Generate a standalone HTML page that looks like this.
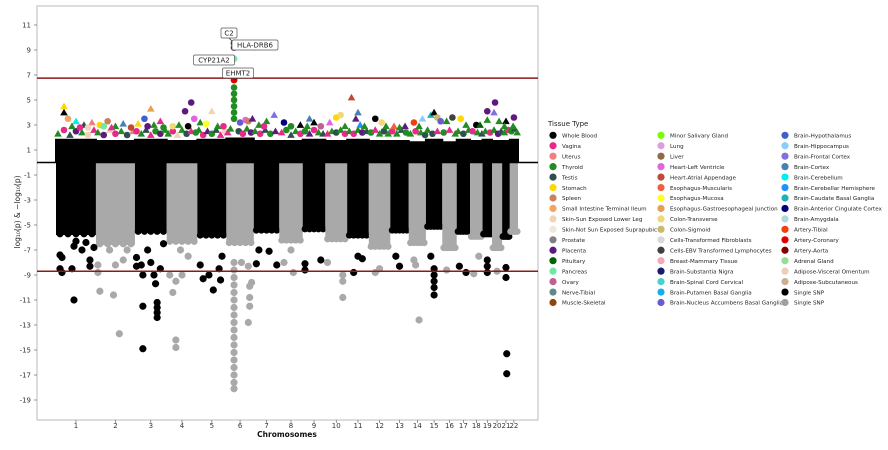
<!DOCTYPE html>
<html><head><meta charset="utf-8">
<style>
body{margin:0;background:#fff;font-family:"Liberation Sans",sans-serif;}
svg text{font-family:"DejaVu Sans","Liberation Sans",sans-serif;}
</style></head>
<body>
<svg id="chart" width="888" height="445" viewBox="0 0 888 445" xmlns="http://www.w3.org/2000/svg">
<rect x="0" y="0" width="888" height="445" fill="#fff"/>
<rect x="37" y="6" width="501" height="414" fill="#fff" stroke="#bbb" stroke-width="1"/>
<g id="bands"></g>
<g id="pts"></g>
<g id="lines"></g>
<g id="ann"></g>
<g id="axes"></g>
<g id="legend"></g>
</svg>
<script>
const chromosomes=["1","2","3","4","5","6","7","8","9","10","11","12","13","14","15","16","17","18","19","20","21","22"];
const chrLength=[249,243,198,191,181,171,159,146,141,136,135,134,115,107,102,90,83,78,59,63,48,51];
const bandTop=[1.9,1.8,1.9,1.8,1.9,2.0,1.8,1.8,1.9,1.8,1.9,1.8,1.8,1.7,1.9,1.7,1.9,1.8,1.9,1.8,1.8,1.9];
const bandBottom=[-5.8,-6.6,-5.6,-6.4,-5.9,-6.5,-5.5,-6.3,-5.4,-6.2,-5.9,-6.8,-5.5,-6.5,-5.2,-6.9,-5.6,-6.0,-5.8,-6.9,-6.0,-5.6];
const yTicks=[11,9,7,5,3,1,-1,-3,-5,-7,-9,-11,-13,-15,-17,-19];
const thresholdUp=6.75, thresholdDown=-8.7;
const lowPts=[[0,.1,-7.4],[0,.15,-7.6],[0,.1,-8.5],[0,.15,-8.8],[0,.45,-11],[0,.4,-8.5],[0,.45,-6.7],[0,.5,-6.3],[0,.65,-7],[0,.75,-6.4],[0,.85,-7.8],[0,.85,-8.3],[0,.95,-6.8],
[1,.05,-8.2],[1,.05,-8.8],[1,.1,-10.3],[1,.35,-7],[1,.45,-10.6],[1,.5,-8.2],[1,.6,-13.7],[1,.7,-7.8],[1,.8,-7],
[2,.05,-7.6],[2,.05,-8.3],[2,.2,-8.2],[2,.25,-9],[2,.25,-11.5],[2,.25,-14.9],[2,.4,-7],[2,.5,-8],[2,.6,-9],[2,.65,-9.7],[2,.7,-11.2],[2,.7,-11.6],[2,.7,-12],[2,.7,-12.4],[2,.8,-8.5],[2,.9,-6.5],
[3,.1,-9],[3,.2,-10.4],[3,.3,-9.5],[3,.3,-14.2],[3,.3,-14.8],[3,.45,-7],[3,.5,-9],[3,.7,-7.5],
[4,.1,-8.2],[4,.2,-9.3],[4,.4,-9],[4,.55,-10.2],[4,.75,-8.5],[4,.8,-9.4],[4,.85,-7.5],
[5,.28,-8],[5,.28,-8.6],[5,.28,-9.2],[5,.28,-9.8],[5,.28,-10.4],[5,.28,-11],[5,.28,-11.6],[5,.28,-12.2],[5,.28,-12.8],[5,.28,-13.4],[5,.28,-14],[5,.28,-14.6],[5,.28,-15.2],[5,.28,-15.8],[5,.28,-16.4],[5,.28,-17],[5,.28,-17.6],[5,.28,-18.1],[5,.55,-8],[5,.8,-8.3],[5,.85,-9.9],[5,.85,-10.8],[5,.85,-11.5],[5,.8,-12.8],[5,.92,-9.6],
[6,.1,-8.1],[6,.2,-7],[6,.6,-7.1],[6,.9,-8.2],
[7,.2,-8],[7,.5,-7],[7,.6,-8.8],
[8,.1,-8.1],[8,.1,-8.6],[8,.8,-7.8],
[9,.1,-8],[9,.8,-9],[9,.8,-9.5],[9,.8,-10.8],
[10,.3,-8.8],[10,.5,-7.5],[10,.7,-7.7],
[11,.3,-8.8],[11,.5,-8.5],
[12,.5,-8.3],[12,.3,-7.5],
[13,.6,-12.6],[13,.4,-8.2],[13,.3,-7.8],
[14,.5,-8.5],[14,.5,-9],[14,.5,-9.5],[14,.5,-10],[14,.5,-10.6],[14,.3,-7.5],
[15,.3,-8.6],
[16,.2,-8.3],[16,.7,-8.8],
[17,.3,-8.9],[17,.7,-7.5],
[18,.5,-7.8],[18,.5,-8.3],[18,.5,-8.8],
[19,.5,-8.7],
[20,.5,-8.4],[20,.5,-9.2],[20,.6,-15.3],[20,.6,-16.9]];
// dense fringe just above the black band: [chrIndex, fraction, value, colorIndex, shape]
const fringePts=[[0,.05,2.3,3,1],[0,.2,2.6,1,0],[0,.35,2.2,4,1],[0,.5,2.5,11,0],[0,.65,2.4,3,1],[0,.8,2.2,8,0],[0,.95,2.6,1,1],
[1,.05,2.4,3,1],[1,.2,2.2,11,0],[1,.35,2.6,8,1],[1,.5,2.3,1,0],[1,.65,2.5,3,1],[1,.8,2.2,4,0],[1,.95,2.5,2,1],
[2,.05,2.5,1,0],[2,.2,2.3,3,1],[2,.35,2.6,4,1],[2,.5,2.2,1,1],[2,.65,2.5,3,0],[2,.8,2.3,11,0],[2,.95,2.6,3,1],
[3,.05,2.3,3,1],[3,.2,2.5,1,0],[3,.35,2.2,8,1],[3,.5,2.6,3,1],[3,.65,2.3,4,0],[3,.8,2.5,1,1],[3,.95,2.4,3,0],
[4,.05,2.6,3,1],[4,.2,2.2,1,0],[4,.35,2.5,11,1],[4,.5,2.3,3,0],[4,.65,2.6,4,1],[4,.8,2.2,1,1],[4,.95,2.5,8,0],
[5,.05,2.4,1,1],[5,.15,2.7,3,1],[5,.45,2.5,4,0],[5,.6,2.3,1,0],[5,.75,2.7,3,1],[5,.9,2.4,11,0],
[6,.05,2.5,3,1],[6,.25,2.3,1,0],[6,.45,2.6,4,1],[6,.65,2.3,3,0],[6,.85,2.5,11,1],
[7,.1,2.4,1,1],[7,.3,2.6,3,0],[7,.5,2.2,4,1],[7,.7,2.5,3,1],[7,.9,2.3,1,0],
[8,.1,2.5,3,0],[8,.3,2.3,11,1],[8,.5,2.6,1,0],[8,.7,2.4,3,1],[8,.9,2.3,4,1],
[9,.1,2.3,1,1],[9,.3,2.5,3,1],[9,.5,2.4,4,0],[9,.7,2.6,3,1],[9,.9,2.3,1,0],
[10,.1,2.5,3,1],[10,.3,2.3,1,0],[10,.5,2.6,3,1],[10,.7,2.4,11,0],[10,.9,2.5,4,1],
[11,.1,2.4,3,0],[11,.3,2.6,1,1],[11,.5,2.3,3,1],[11,.7,2.5,4,0],[11,.9,2.3,3,1],
[12,.1,2.5,1,0],[12,.35,2.3,3,1],[12,.6,2.6,4,1],[12,.85,2.4,3,0],
[13,.1,2.3,3,1],[13,.4,2.5,1,0],[13,.7,2.4,3,1],[13,.95,2.2,4,0],
[14,.1,2.6,3,1],[14,.4,2.3,4,0],[14,.7,2.5,1,1],
[15,.1,2.4,3,0],[15,.5,2.6,1,1],[15,.9,2.3,3,1],
[16,.1,2.5,3,1],[16,.5,2.3,4,0],[16,.9,2.6,3,1],
[17,.2,2.5,1,0],[17,.6,2.4,3,1],[17,.95,2.3,4,1],
[18,.3,2.5,3,1],[18,.8,2.4,1,0],
[19,.2,2.6,3,1],[19,.6,2.3,11,0],[19,.9,2.5,4,1],
[20,.3,2.4,3,1],[20,.8,2.6,1,0],
[21,.2,2.5,3,0],[21,.6,2.7,4,1],[21,.9,2.4,3,1]];
const topPts=[[0,.2,4.5,5,1],[0,.2,4.0,0,1],[0,.3,3.5,7,0],[0,.5,3.3,38,1],[0,.7,3.0,4,1],[0,.9,3.2,2,1],[0,.4,2.9,3,1],[0,.6,2.8,1,0],[0,.8,2.8,8,0],
[1,.1,3.0,5,0],[1,.3,3.3,6,0],[1,.5,2.9,3,1],[1,.7,3.1,37,1],[1,.9,2.8,21,0],[1,.4,2.8,1,1],[1,.2,2.9,13,0],
[2,.1,3.1,5,1],[2,.3,3.5,34,0],[2,.5,4.3,24,1],[2,.6,3.0,3,1],[2,.8,3.3,1,1],[2,.9,2.8,3,0],[2,.4,2.9,11,0],
[3,.2,2.9,25,0],[3,.4,3.0,3,1],[3,.6,4.1,11,0],[3,.7,2.9,0,0],[3,.9,3.5,20,0],[3,.8,4.8,11,0],
[4,.1,3.2,3,1],[4,.3,3.1,23,0],[4,.5,4.1,8,1],[4,.7,2.9,3,1],[4,.9,2.9,1,0],
[5,.28,3.5,3,0],[5,.28,4.0,3,0],[5,.28,4.5,3,0],[5,.28,5.0,3,0],[5,.28,5.5,3,0],[5,.28,6.0,3,0],[5,.28,6.6,44,0],[5,.5,3.2,33,0],[5,.7,3.4,20,0],[5,.8,3.3,6,0],[5,.95,3.5,11,1],
[6,.2,3.0,3,1],[6,.5,3.3,3,1],[6,.8,3.8,36,1],[6,.4,2.9,1,0],
[7,.2,3.2,41,0],[7,.5,2.9,3,0],[7,.9,3.0,0,1],
[8,.3,3.5,37,1],[8,.5,3.2,0,1],[8,.2,2.9,3,1],[8,.8,2.9,14,0],
[9,.2,3.2,20,1],[9,.5,3.6,5,0],[9,.7,3.8,25,0],[9,.9,2.9,3,1],
[10,.2,5.2,21,1],[10,.4,3.5,11,1],[10,.5,4.0,37,1],[10,.6,3.0,39,1],[10,.8,2.9,3,1],
[11,.3,3.5,0,0],[11,.6,3.2,25,0],[11,.8,2.9,3,1],
[12,.2,2.9,22,1],[12,.5,2.8,3,1],[12,.8,2.9,11,1],
[13,.3,3.2,43,0],[13,.6,2.9,3,1],[13,.8,3.5,35,1],
[14,.3,3.8,40,1],[14,.5,4.0,0,1],[14,.7,3.6,26,0],[14,.9,3.3,33,0],
[15,.3,3.3,3,1],[15,.7,3.6,28,0],
[16,.3,3.5,5,0],[16,.7,3.0,3,1],
[17,.5,3.0,0,0],[17,.8,3.0,12,1],
[18,.5,4.1,11,0],[18,.5,3.4,3,1],
[19,.3,4.8,11,0],[19,.2,4.0,36,1],[19,.7,3.3,3,1],
[20,.5,3.3,0,1],[20,.3,2.9,3,1],
[21,.5,3.6,11,0],[21,.4,2.9,3,1]];
const legendLabels=["Whole Blood","Vagina","Uterus","Thyroid","Testis","Stomach","Spleen","Small Intestine Terminal Ileum","Skin-Sun Exposed Lower Leg","Skin-Not Sun Exposed Suprapubic","Prostate","Placenta","Pituitary","Pancreas","Ovary","Nerve-Tibial","Muscle-Skeletal",
"Minor Salivary Gland","Lung","Liver","Heart-Left Ventricle","Heart-Atrial Appendage","Esophagus-Muscularis","Esophagus-Mucosa","Esophagus-Gastroesophageal Junction","Colon-Transverse","Colon-Sigmoid","Cells-Transformed Fibroblasts","Cells-EBV Transformed Lymphocytes","Breast-Mammary Tissue","Brain-Substantia Nigra","Brain-Spinal Cord Cervical","Brain-Putamen Basal Ganglia","Brain-Nucleus Accumbens Basal Ganglia",
"Brain-Hypothalamus","Brain-Hippocampus","Brain-Frontal Cortex","Brain-Cortex","Brain-Cerebellum","Brain-Cerebellar Hemisphere","Brain-Caudate Basal Ganglia","Brain-Anterior Cingulate Cortex","Brain-Amygdala","Artery-Tibial","Artery-Coronary","Artery-Aorta","Adrenal Gland","Adipose-Visceral Omentum","Adipose-Subcutaneous","Single SNP","Single SNP"];
const legendColors=["#000000","#e7298a","#f08080","#228b22","#2f4f4f","#ffd700","#c8825c","#f4a460","#eed5b7","#f0e8da","#808080","#5e1a7a","#006400","#6fe8a8","#c06090","#5f8a8b","#8b4513",
"#7cfc00","#dda0dd","#8b6b4a","#e066e0","#c04a3a","#f06040","#ffff20","#e8a050","#f0d878","#c8b870","#d8d8d8","#404040","#f4a8b8","#191970","#48d1cc","#10b0f0","#6a5acd",
"#4060d0","#87cefa","#8070e0","#4682b4","#00f0f0","#1e90ff","#20b2b2","#000080","#b0d8e0","#f04010","#e00000","#800000","#90e090","#ead0b8","#c8b090","#000000","#a0a0a0"];
const annotations=[["C2",9.55,229,33],["HLA-DRB6",9.2,255,45],["CYP21A2",8.3,214,60],["EHMT2",6.6,238,73]];

const NS="http://www.w3.org/2000/svg";
const total=chrLength.reduce((a,b)=>a+b,0);
const starts=[];let acc=0;chrLength.forEach(l=>{starts.push(acc);acc+=l;});
const X0=56,X1=518;
function xs(pos){return X0+pos*(X1-X0)/total;}
function ys(v){return 162.5-v*12.5;}
function mk(tag,attrs,parent){const e=document.createElementNS(NS,tag);for(const k in attrs)e.setAttribute(k,attrs[k]);parent.appendChild(e);return e;}
const gB=document.getElementById('bands'),gP=document.getElementById('pts'),gL=document.getElementById('lines'),gA=document.getElementById('ann'),gX=document.getElementById('axes'),gG=document.getElementById('legend');

// lower bands first, then upper
chromosomes.forEach((c,i)=>{
  const x0=xs(starts[i]),x1=xs(starts[i]+chrLength[i]);
  const col=i%2===0?'#000':'#a9a9a9';
  const r2=mk('rect',{x:x0,y:ys(0),width:x1-x0,height:ys(bandBottom[i])-ys(0),fill:col},gB);
  
  
  for(let f=0.1;f<0.95;f+=0.2){
    const e2=mk('circle',{cx:x0+(x1-x0)*f,cy:ys(bandBottom[i])-1,r:3.4,fill:col},gB);
    
    
  }
});
chromosomes.forEach((c,i)=>{
  const x0=xs(starts[i]),x1=xs(starts[i]+chrLength[i]);
  const r1=mk('rect',{x:x0-1,y:ys(bandTop[i]),width:x1-x0+2,height:ys(0)-ys(bandTop[i]),fill:'#000'},gB);
  
  
});
fringePts.concat(topPts).forEach(p=>{
  const i=p[0];const cx=xs(starts[i]+chrLength[i]*p[1]);const cy=ys(p[2]);
  let e;
  if(p[4]===1){e=mk('polygon',{points:`${cx},${cy-3.8} ${cx-3.8},${cy+2.9} ${cx+3.8},${cy+2.9}`,fill:legendColors[p[3]]},gP);}
  else{e=mk('circle',{cx:cx,cy:cy,r:3.3,fill:legendColors[p[3]]},gP);}
  
  
});
lowPts.forEach(p=>{
  const i=p[0];const cx=xs(starts[i]+chrLength[i]*p[1]);
  const c=mk('circle',{cx:cx,cy:ys(p[2]),r:3.6,fill:i%2===0?'#000':'#a9a9a9'},gP);
  
  
});
const hitCols=["#333","#5e1a7a","#6fe8a8","#e00000"];
annotations.forEach((a,k)=>{
  const px=xs(starts[5]+chrLength[5]*0.28),py=ys(a[1]);
  const c=mk('circle',{cx:px,cy:py,r:3.4,fill:hitCols[k]},gP);
  
  
  const w=a[0].length*5+6;
  const ln=mk('line',{x1:a[2],y1:a[3]+5,x2:px,y2:py,stroke:'#333','stroke-width':0.8},gA);
  
  
  const b=mk('rect',{x:a[2]-w/2,y:a[3]-5,width:w,height:10,fill:'#fff',stroke:'#555','stroke-width':0.7,rx:1.5},gA);
  
  
  const t=mk('text',{x:a[2],y:a[3]+2.5,'font-size':7,'text-anchor':'middle',fill:'#222'},gA);
  t.textContent=a[0];
  
  
});
[[thresholdUp,'#8b1a1a','threshold-line-upper'],[thresholdDown,'#8b1a1a','threshold-line-lower'],[0,'#000','zero-line']].forEach(l=>{
  const e=mk('line',{x1:37,x2:538,y1:ys(l[0]),y2:ys(l[0]),stroke:l[1],'stroke-width':1.4},gL);
  
  
});
yTicks.forEach(v=>{
  const t=mk('text',{x:31,y:ys(v)+2.5,'font-size':7,'text-anchor':'end',fill:'#333'},gX);
  t.textContent=v;
  
  
  const tk=mk('line',{x1:34,x2:37,y1:ys(v),y2:ys(v),stroke:'#555','stroke-width':0.6},gX);
  
  
});
chromosomes.forEach((c,i)=>{
  const cx=xs(starts[i]+chrLength[i]/2);
  const t=mk('text',{x:cx,y:428,'font-size':7,'text-anchor':'middle',fill:'#333'},gX);
  t.textContent=c;
  
  
  const tk=mk('line',{x1:cx,x2:cx,y1:420,y2:423,stroke:'#555','stroke-width':0.6},gX);
  
  
});
const xl=mk('text',{x:287,y:437,'font-size':7.5,'font-weight':'bold','text-anchor':'middle',fill:'#111'},gX);
xl.textContent='Chromosomes';


const yl=mk('text',{x:0,y:0,'font-size':7.5,'text-anchor':'middle',fill:'#222',transform:'translate(20,212) rotate(-90)'},gX);
yl.textContent='log\u2081\u2080(p) & \u2212log\u2081\u2080(p)';


const lt=mk('text',{x:548,y:126,'font-size':7,fill:'#222'},gG);
lt.textContent='Tissue Type';


const colX=[553,661,785],rows=17;
legendLabels.forEach((lab,k)=>{
  const col=Math.floor(k/rows),row=k%rows;
  const cy=135.3+row*10.45;
  const c=mk('circle',{cx:colX[col],cy:cy,r:3.6,fill:legendColors[k]},gG);
  
  
  const t=mk('text',{x:colX[col]+9,y:cy+2.2,'font-size':5.6,fill:'#222'},gG);
  t.textContent=lab;
  
  
});
</script>
</body></html>
